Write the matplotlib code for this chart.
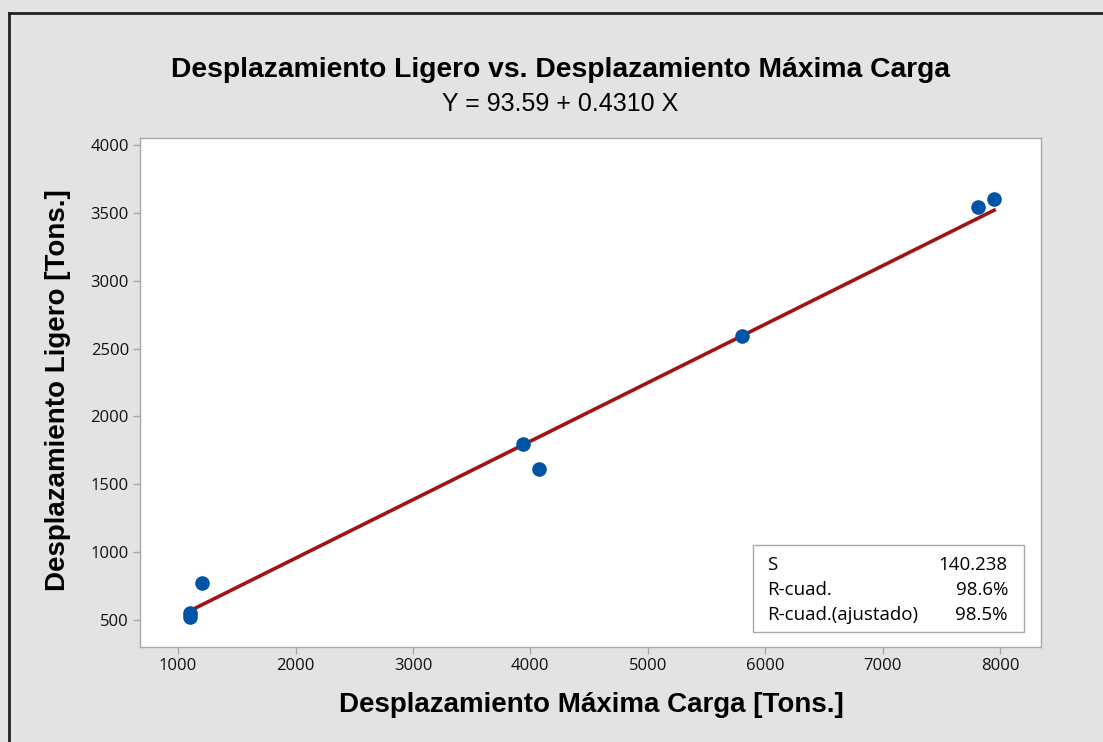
import numpy as np
import matplotlib
matplotlib.use("Agg")
import matplotlib.pyplot as plt
from matplotlib.lines import Line2D
from matplotlib.patches import Rectangle

# values
carga_max = [1100, 1100, 1200, 3940, 4075, 5805, 7815, 7950]
ligero = [525, 555, 775, 1800, 1615, 2590, 3545, 3605]
intercept = 93.59
slope = 0.4310
x_ticks = [1000, 2000, 3000, 4000, 5000, 6000, 7000, 8000]
y_ticks = [500, 1000, 1500, 2000, 2500, 3000, 3500, 4000]
stat_names = ["S", "R-cuad.", "R-cuad.(ajustado)"]
stat_values = ["140.238", "98.6%", "98.5%"]

BG = "#e3e3e3"
BLUE = "#0054a6"
RED = "#a01414"
GRAY = "#a8a8a8"
TICK_FONT = "Open Sans"
LABEL_FONT = "Liberation Sans"

fig = plt.figure(figsize=(11.03, 7.42), dpi=100, facecolor=BG)
ax = fig.add_axes([0.127, 0.128, 0.817, 0.686])
ax.set_facecolor("white")

# fitted line over the data range
xs = np.array([min(carga_max), max(carga_max)])
ax.plot(xs, intercept + slope * xs, color=RED, lw=2.6, zorder=2)
ax.plot(carga_max, ligero, "o", color=BLUE, ms=9.5, mec=BLUE, zorder=3)

ax.set_xlim(676, 8351)
ax.set_ylim(301, 4052)
ax.set_xticks(x_ticks)
ax.set_yticks(y_ticks)
for s in ax.spines.values():
    s.set_color(GRAY)
    s.set_linewidth(1.0)
ax.tick_params(direction="out", length=5, color=GRAY, width=1, pad=3)
for lab in ax.get_xticklabels() + ax.get_yticklabels():
    lab.set_fontfamily(TICK_FONT)
    lab.set_fontsize(12)
    lab.set_fontweight("medium")
    lab.set_color("#111111")

# stats box
box = Rectangle((0.680, 0.029), 0.301, 0.171, transform=ax.transAxes,
                facecolor="white", edgecolor=GRAY, lw=1, zorder=4)
ax.add_patch(box)
row_y = [0.162, 0.113, 0.062]
for name, val, yy in zip(stat_names, stat_values, row_y):
    ax.text(0.696, yy, name, transform=ax.transAxes, fontfamily=TICK_FONT,
            fontsize=13.5, va="center", ha="left", zorder=5)
    ax.text(0.963, yy, val, transform=ax.transAxes, fontfamily=TICK_FONT,
            fontsize=13.5, va="center", ha="right", zorder=5)

fig.text(0.508, 0.906, "Desplazamiento Ligero vs. Desplazamiento Máxima Carga",
         ha="center", va="center", fontfamily=LABEL_FONT,
         fontweight="bold", fontsize=20.3)
fig.text(0.508, 0.860, "Y = 93.59 + 0.4310 X", ha="center", va="center",
         fontfamily=LABEL_FONT, fontsize=18)
fig.text(0.536, 0.050, "Desplazamiento Máxima Carga [Tons.]", ha="center",
         va="center", fontfamily=LABEL_FONT, fontweight="bold", fontsize=20)
fig.text(0.053, 0.474, "Desplazamiento Ligero [Tons.]", ha="center",
         va="center", rotation=90, fontfamily=LABEL_FONT,
         fontweight="bold", fontsize=20)

# outer frame lines (top and left only, as in the source image)
fig.add_artist(Line2D([0.008, 1.0], [0.983, 0.983], transform=fig.transFigure,
                      color="#202020", lw=2))
fig.add_artist(Line2D([0.008, 0.008], [0.0, 0.983], transform=fig.transFigure,
                      color="#202020", lw=2))

fig.savefig("out.png", dpi=100, facecolor=BG)
